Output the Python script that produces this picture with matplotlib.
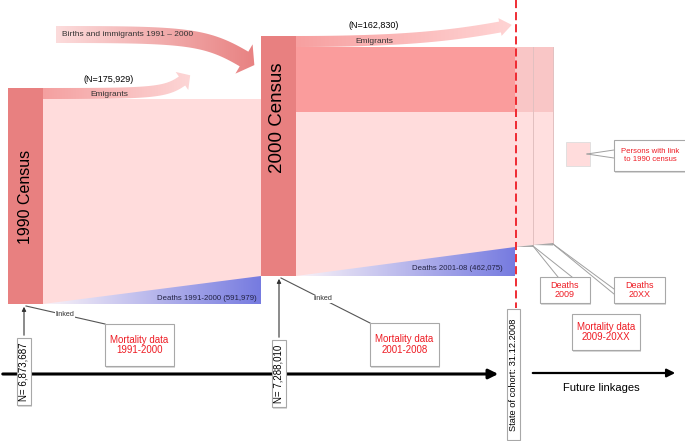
import numpy as np
import matplotlib
matplotlib.use("Agg")
import matplotlib.pyplot as plt
from matplotlib.patches import Polygon, Rectangle
from matplotlib.colors import to_rgb

plt.rcParams['font.family'] = ['Liberation Sans', 'DejaVu Sans']

# labels / numbers of the cohort diagram
census_labels = ["1990 Census", "2000 Census"]
census_n = ["N= 6,873,687", "N= 7,288,010"]
emigrant_n = ["(N=175,929)", "(N=162,830)"]
death_labels = ["Deaths 1991-2000 (591,979)", "Deaths 2001-08 (462,075)"]
mortality_labels = ["Mortality data\n1991-2000", "Mortality data\n2001-2008", "Mortality data\n2009-20XX"]
future_deaths = ["Deaths\n2009", "Deaths\n20XX"]
births_label = "Births and immigrants 1991 \u2013 2000"
state_label = "State of cohort: 31.12.2008"
legend_label = "Persons with link\nto 1990 census"

BAR = '#e88080'
PALE = '#ffdcdc'
UPPER = '#fa9c9c'
RED = '#ee1c24'

fig = plt.figure(figsize=(6.85, 4.41), dpi=100)
ax = fig.add_axes([0, 0, 1, 1])


def bezier(p0, p1, p2, p3, n=80):
    t = np.linspace(0, 1, n)[:, None]
    p0, p1, p2, p3 = [np.array(p, float) for p in (p0, p1, p2, p3)]
    return (1-t)**3*p0 + 3*(1-t)**2*t*p1 + 3*(1-t)*t**2*p2 + t**3*p3


def arrow_band(ctrl, width, head_w, head_l):
    c = bezier(*ctrl)
    d = np.gradient(c, axis=0)
    d = d / np.linalg.norm(d, axis=1)[:, None]
    nrm = np.stack([-d[:, 1], d[:, 0]], 1)
    left = c + nrm*width/2
    right = c - nrm*width/2
    e, de, ne = c[-1], d[-1], nrm[-1]
    head = [e + ne*head_w/2, e + de*head_l, e - ne*head_w/2]
    return np.vstack([left, head, right[::-1]])


def grad_fill(verts, c0, c1, z=2):
    verts = np.asarray(verts, float)
    poly = Polygon(verts, closed=True, fc='none', ec='none')
    ax.add_patch(poly)
    t = np.linspace(0, 1, 256)[:, None]
    cols = np.array(to_rgb(c0))*(1-t) + np.array(to_rgb(c1))*t
    x0, x1 = verts[:, 0].min(), verts[:, 0].max()
    y0, y1 = verts[:, 1].min(), verts[:, 1].max()
    im = ax.imshow(cols[None, :, :], extent=(x0, x1, y1, y0), aspect='auto',
                   interpolation='bilinear', zorder=z)
    im.set_clip_path(poly)


def box(x0, y0, x1, y1, text, color='black', size=7, rot=0):
    ax.add_patch(Rectangle((x0+1.5, y0+1.5), x1-x0, y1-y0, fc='#d9d9d9', ec='none', zorder=6))
    ax.add_patch(Rectangle((x0, y0), x1-x0, y1-y0, fc='white', ec='#a8a8a8', lw=0.8, zorder=7))
    ax.text((x0+x1)/2, (y0+y1)/2, text, color=color, fontsize=size, rotation=rot,
            ha='center', va='center', linespacing=1.1, zorder=8)


# ---- 1990 cohort flow ----
ax.add_patch(Rectangle((43, 99), 218, 205, fc=PALE, ec='none', zorder=1))
grad_fill([(43, 304), (261, 276), (261, 304)], '#fbf4f8', '#767be0')
grad_fill(arrow_band([(43, 93.5), (150, 93.5), (165, 93), (182, 81)], 11, 22, 10),
          '#f4a0a0', '#fdd6d6')
ax.add_patch(Rectangle((8, 88), 35, 216, fc=BAR, ec='none', zorder=3))

# births and immigrants arrow
grad_fill(arrow_band([(56, 34.5), (185, 34.5), (205, 36), (244, 59)], 17, 34, 12),
          '#fcdcdc', '#e88282')

# ---- 2000 cohort flow ----
ax.add_patch(Rectangle((296, 47), 219, 65, fc=UPPER, ec='none', zorder=1))
ax.add_patch(Rectangle((296, 112), 219, 164, fc=PALE, ec='none', zorder=1))
grad_fill([(296, 276), (515, 247), (515, 276)], '#fbf4f8', '#767be0')
grad_fill(arrow_band([(296, 41.5), (400, 41.5), (450, 36), (500, 27)], 11, 18, 12),
          '#f7a0a0', '#ffd4d4')
ax.add_patch(Rectangle((261, 36), 35, 240, fc=BAR, ec='none', zorder=3))

# after 31.12.2008
ax.add_patch(Rectangle((515, 47), 38, 65, fc='#f9c6c6', ec='none', zorder=1))
ax.add_patch(Polygon([(515, 112), (553, 112), (553, 244), (533, 245), (515, 247)],
                     fc='#ffdfdf', ec='none', zorder=1))
ax.add_patch(Polygon([(515, 247), (533, 245), (533, 247)], fc='#a8a8a8', ec='none', zorder=2))
ax.add_patch(Polygon([(533, 245), (553, 243), (553, 245.5)], fc='#a8a8a8', ec='none', zorder=2))
ax.plot([533, 533], [47, 246], color='#e2c0c0', lw=0.7, zorder=2)
ax.plot([553, 553], [47, 244], color='#e2c0c0', lw=0.7, zorder=2)

ax.plot([516, 516], [0, 308], color=RED, lw=1.3, dashes=(4.5, 2.2), zorder=4)

# texts on the flows
ax.text(26, 197, census_labels[0], rotation=90, fontsize=11.5, ha='center', va='center', zorder=5)
ax.text(278, 118, census_labels[1], rotation=90, fontsize=13.5, ha='center', va='center', zorder=5)
ax.text(109, 79, emigrant_n[0], fontsize=6.5, ha='center', va='center', zorder=5)
ax.text(109, 94, "Emigrants", fontsize=6, ha='center', va='center', color='#333333', zorder=5)
ax.text(374, 25, emigrant_n[1], fontsize=6.5, ha='center', va='center', zorder=5)
ax.text(374, 41.5, "Emigrants", fontsize=6, ha='center', va='center', color='#333333', zorder=5)
ax.text(128, 35, births_label, fontsize=6, ha='center', va='center', color='#333333', zorder=5)
ax.text(257, 298, death_labels[0], fontsize=5.6, ha='right', va='center', color='#222244', zorder=5)
ax.text(503, 268, death_labels[1], fontsize=5.6, ha='right', va='center', color='#222244', zorder=5)

# ---- timeline ----
ax.annotate('', xy=(501, 374), xytext=(0, 374),
            arrowprops=dict(arrowstyle='-|>', lw=2.2, color='black', mutation_scale=14), zorder=4)
ax.annotate('', xy=(678, 373), xytext=(530, 373),
            arrowprops=dict(arrowstyle='-|>', lw=1.6, color='black', mutation_scale=12), zorder=4)
ax.text(601, 388, "Future linkages", fontsize=8, ha='center', va='center')

# census N arrows and linkage lines
ax.annotate('', xy=(24, 304), xytext=(24, 338),
            arrowprops=dict(arrowstyle='-|>', lw=0.8, color='#333333', mutation_scale=6), zorder=5)
ax.annotate('', xy=(279, 276), xytext=(279, 340),
            arrowprops=dict(arrowstyle='-|>', lw=0.8, color='#333333', mutation_scale=6), zorder=5)
ax.plot([26, 105], [306, 324], color='#555555', lw=0.8, zorder=5)
ax.plot([281, 370], [278, 323], color='#555555', lw=0.8, zorder=5)
ax.text(65, 314, "linked", fontsize=5.2, ha='center', va='center', color='#333333', zorder=6,
        bbox=dict(fc='white', ec='none', pad=0.3))
ax.text(323, 299, "linked", fontsize=5.2, ha='center', va='center', color='#333333', zorder=6,
        bbox=dict(fc='white', ec='none', pad=0.3))

box(17, 338, 31, 405, census_n[0], size=7, rot=90)
box(272, 340, 286, 407, census_n[1], size=7, rot=90)
box(507, 309, 520, 440, state_label, size=6.7, rot=90)
box(105, 324, 174, 366, mortality_labels[0], color=RED, size=7)
box(370, 323, 439, 366, mortality_labels[1], color=RED, size=7)
box(572, 314, 640, 350, mortality_labels[2], color=RED, size=7)

# future deaths callouts
ax.plot([533, 558], [246, 277], color='#a0a0a0', lw=0.7, zorder=5)
ax.plot([533, 572], [246, 277], color='#a0a0a0', lw=0.7, zorder=5)
ax.plot([553, 614], [244, 289], color='#a0a0a0', lw=0.7, zorder=5)
ax.plot([553, 614], [244, 294], color='#a0a0a0', lw=0.7, zorder=5)
box(540, 277, 590, 303, future_deaths[0], color=RED, size=6.5)
box(614, 277, 665, 303, future_deaths[1], color=RED, size=6.5)

# legend
ax.add_patch(Rectangle((566, 142), 24, 24, fc=PALE, ec='#dddddd', lw=0.6, zorder=5))
ax.plot([587, 614], [154, 150], color='#a0a0a0', lw=0.7, zorder=5)
ax.plot([587, 614], [154, 158], color='#a0a0a0', lw=0.7, zorder=5)
box(614, 140, 687, 171, legend_label, color=RED, size=5.6)

ax.set_xlim(0, 685)
ax.set_ylim(441, 0)
ax.axis('off')
fig.savefig("out.png", dpi=100)
